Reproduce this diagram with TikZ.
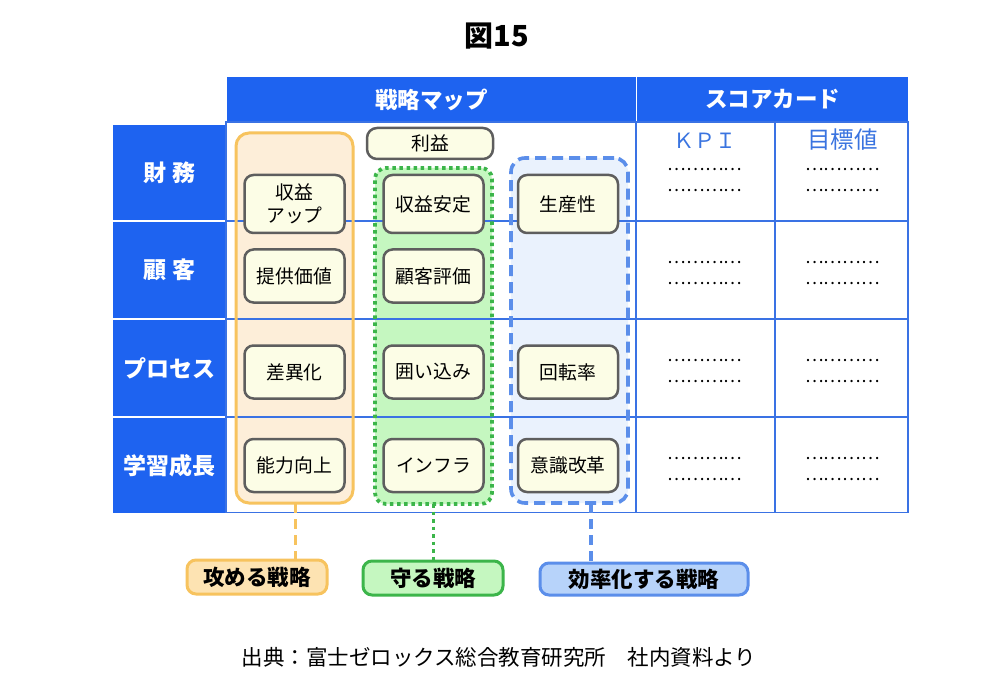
\documentclass[tikz,border=0pt]{standalone}
\usepackage{fontspec}
\setmainfont{Noto Sans CJK JP}
\definecolor{hdr}{HTML}{1E63F0}
\definecolor{gridc}{HTML}{3A72E4}
\definecolor{boxline}{HTML}{5E5E5E}
\definecolor{boxfill}{HTML}{FCFDE6}
\definecolor{orgfill}{HTML}{FDEED9}
\definecolor{orgline}{HTML}{F7C35E}
\definecolor{orglab}{HTML}{FDE3B2}
\definecolor{grnfill}{HTML}{C5F7C0}
\definecolor{grnline}{HTML}{3CB54A}
\definecolor{blufill}{HTML}{EAF2FD}
\definecolor{bluline}{HTML}{5B8EEA}
\definecolor{blulab}{HTML}{B7D3FA}
\definecolor{kpic}{HTML}{3A74E0}
\begin{document}
\begin{tikzpicture}[x=1pt,y=-1pt,
  hbar/.style={fill=hdr, inner sep=0pt, text=white, font=\bfseries\fontsize{22.5}{26}\selectfont},
  rowhead/.style={fill=hdr, inner sep=0pt, text=white, minimum width=113pt, font=\bfseries\fontsize{23}{27}\selectfont},
  grp/.style={inner sep=0pt, minimum width=117pt},
  gridline/.style={draw=gridc, line width=1.3pt},
  itembox/.style={draw=boxline, line width=2.5pt, fill=boxfill, rounded corners=9pt, minimum width=100pt, inner sep=0pt, font=\fontsize{18.8}{22}\selectfont, align=center},
  dotsline/.style={anchor=base, inner sep=0pt, font=\fontsize{17.5}{20}\selectfont},
  lab/.style={line width=3pt, rounded corners=9pt, inner sep=0pt, minimum height=34pt, font=\bfseries\fontsize{21.5}{25}\selectfont}
]
\useasboundingbox[fill=white] (0,0) rectangle (1000,692);

% title
\node[font=\bfseries\fontsize{29}{33}\selectfont] (title) at (497,36) {図15};

% header bars
\node[hbar, minimum width=409pt, minimum height=45pt] (hmap) at (431.5,99.5) {戦略マップ};
\node[hbar, minimum width=271pt, minimum height=45pt] (hscore) at (772.5,99.5) {スコアカード};

% row headers
\node[rowhead, minimum height=95pt] (r1) at (169.5,172.5) {財 務};
\node[rowhead, minimum height=96pt] (r2) at (169.5,270) {顧 客};
\node[rowhead, minimum height=96pt] (r3) at (169.5,368) {プロセス};
\node[rowhead, minimum height=95pt] (r4) at (169.5,465.5) {学習成長};

% group fills
\node[grp, fill=orgfill, rounded corners=13pt, minimum height=370pt] (gO) at (294.5,318) {};
\node[grp, fill=grnfill, rounded corners=11pt, minimum height=336pt] (gG) at (433.5,336) {};
\node[grp, fill=blufill, rounded corners=14pt, minimum height=345pt] (gB) at (569.5,330.5) {};

% grid
\draw[gridline] (226,122) rectangle (908,512.5);
\foreach \yy in {221,319,417} \draw[gridline] (226,\yy) -- (908,\yy);
\foreach \xx in {636,775} \draw[gridline] (\xx,122) -- (\xx,512.5);

% group borders
\node[grp, draw=orgline, line width=3pt, rounded corners=13pt, minimum height=370pt] at (294.5,318) {};
\node[grp, draw=grnline, line width=3.8pt, dash pattern=on 3.5pt off 3.6pt, rounded corners=11pt, minimum height=336pt] at (433.5,336) {};
\node[grp, draw=bluline, line width=3.6pt, dash pattern=on 11pt off 6pt, rounded corners=14pt, minimum height=345pt] at (569.5,330.5) {};

% items
\node[itembox, minimum width=126pt, minimum height=31pt, rounded corners=10pt] (rieki) at (430,143.5) {利益};
\node[itembox, minimum height=58pt, font=\fontsize{18.8}{23}\selectfont] (b11) at (294.5,204) {収益\\アップ};
\node[itembox, minimum height=58pt] (b12) at (433.5,204) {収益安定};
\node[itembox, minimum height=58pt] (b13) at (568,204) {生産性};
\node[itembox, minimum height=53pt] (b21) at (294.5,276) {提供価値};
\node[itembox, minimum height=53pt] (b22) at (433.5,276) {顧客評価};
\node[itembox, minimum height=53pt] (b31) at (294.5,372) {差異化};
\node[itembox, minimum height=53pt] (b32) at (433.5,372) {囲い込み};
\node[itembox, minimum height=53pt] (b33) at (568,372) {回転率};
\node[itembox, minimum height=53pt] (b41) at (294.5,465.5) {能力向上};
\node[itembox, minimum height=53pt] (b42) at (433.5,465.5) {インフラ};
\node[itembox, minimum height=53pt] (b43) at (568,465.5) {意識改革};

% scorecard
\node[text=kpic, font=\fontsize{21}{24}\selectfont] (kpi) at (705,141) {ＫＰＩ};
\node[text=kpic, font=\fontsize{23.5}{27}\selectfont] (target) at (842.5,140) {目標値};
\foreach \yy [count=\i] in {171,192,264,285,361,382,459,480} {
  \node[dotsline] (dk\i) at (705,\yy) {…………};
  \node[dotsline] (dt\i) at (842.5,\yy) {…………};
}

% labels
\node[lab, draw=orgline, fill=orglab, minimum width=140pt] (lO) at (257,577) {攻める戦略};
\node[lab, draw=grnline, fill=grnfill, minimum width=140pt] (lG) at (433,578) {守る戦略};
\node[lab, draw=bluline, fill=blulab, minimum width=208pt, minimum height=32pt] (lB) at (644,579) {効率化する戦略};

% connectors
\draw[draw=orgline, line width=3pt, dash pattern=on 10pt off 6pt] ([xshift=1pt]gO.south) -- ([xshift=1pt]gO.south |- lO.north);
\draw[draw=grnline, line width=3.5pt, dash pattern=on 3.5pt off 4pt] (gG.south) -- (gG.south |- lG.north);
\draw[draw=bluline, line width=3.2pt, dash pattern=on 10pt off 6pt] ([xshift=21.5pt]gB.south) -- ([xshift=21.5pt]gB.south |- lB.north);

% footer
\node[font=\fontsize{21.5}{25}\selectfont] (src) at (499,657) {出典：富士ゼロックス総合教育研究所　社内資料より};
\end{tikzpicture}
\end{document}
